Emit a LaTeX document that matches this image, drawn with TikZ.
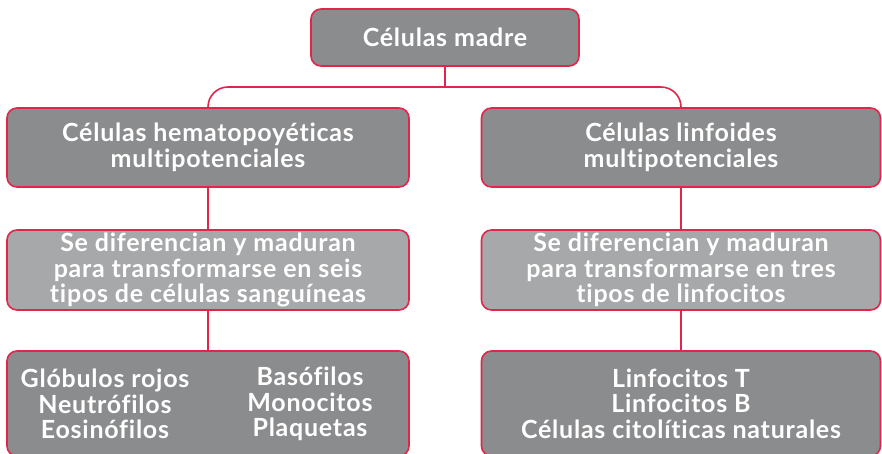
\documentclass[tikz,border=0pt]{standalone}
\usepackage{fontspec}
\setmainfont{Lato}[RawFeature={-liga;-dlig;-clig}]
\definecolor{boxred}{HTML}{E2264B}
\definecolor{darkgray}{HTML}{8B8C8E}
\definecolor{lightgray}{HTML}{A7A8AA}
\newcommand{\boxfont}{\bfseries\fontsize{25}{25.5}\selectfont\addfontfeature{LetterSpace=3}}
\tikzset{
  box/.style={draw=boxred, line width=1.6pt, rounded corners=10pt, fill=darkgray,
    text=white, font=\boxfont, align=center,
    inner sep=0pt, outer sep=0pt, anchor=center},
  lightbox/.style={box, fill=lightgray},
  txt/.style={text=white, font=\boxfont, align=center, inner sep=0pt},
  conn/.style={draw=boxred, line width=1.6pt}
}
\begin{document}
\begin{tikzpicture}[x=1pt,y=-1pt]
\useasboundingbox (0,0) rectangle (882,454);
\node[box, minimum width=268pt, minimum height=57pt] (top) at (445,37.5) {Células madre};
\node[box, minimum width=402pt, minimum height=79pt] (l1) at (208,147.5) {Células hematopoyéticas\\multipotenciales};
\node[box, minimum width=399pt, minimum height=79pt] (r1) at (681,147.5) {Células linfoides\\multipotenciales};
\node[lightbox, minimum width=402pt, minimum height=80pt] (l2) at (208,270) {Se diferencian y maduran\\para transformarse en seis\\tipos de células sanguíneas};
\node[lightbox, minimum width=399pt, minimum height=80pt] (r2) at (681,270) {Se diferencian y maduran\\para transformarse en tres\\tipos de linfocitos};
\node[box, minimum width=402pt, minimum height=105pt] (l3) at (208,403.5) {};
\node[box, minimum width=399pt, minimum height=105pt] (r3) at (681,403.5) {Linfocitos T\\Linfocitos B\\Células citolíticas naturales};
\node[txt] (l3a) at (105,404) {Glóbulos rojos\\Neutrófilos\\Eosinófilos};
\node[txt] (l3b) at (310,404) {Basófilos\\Monocitos\\Plaquetas};
\draw[conn] (top.south) -- (445,87) coordinate (j);
\draw[conn, rounded corners=20pt] (j) -| (l1.north);
\draw[conn, rounded corners=20pt] (j) -| (r1.north);
\draw[conn] (l1.south) -- (l2.north);
\draw[conn] (r1.south) -- (r2.north);
\draw[conn] (l2.south) -- (l3.north);
\draw[conn] (r2.south) -- (r3.north);
\end{tikzpicture}
\end{document}
